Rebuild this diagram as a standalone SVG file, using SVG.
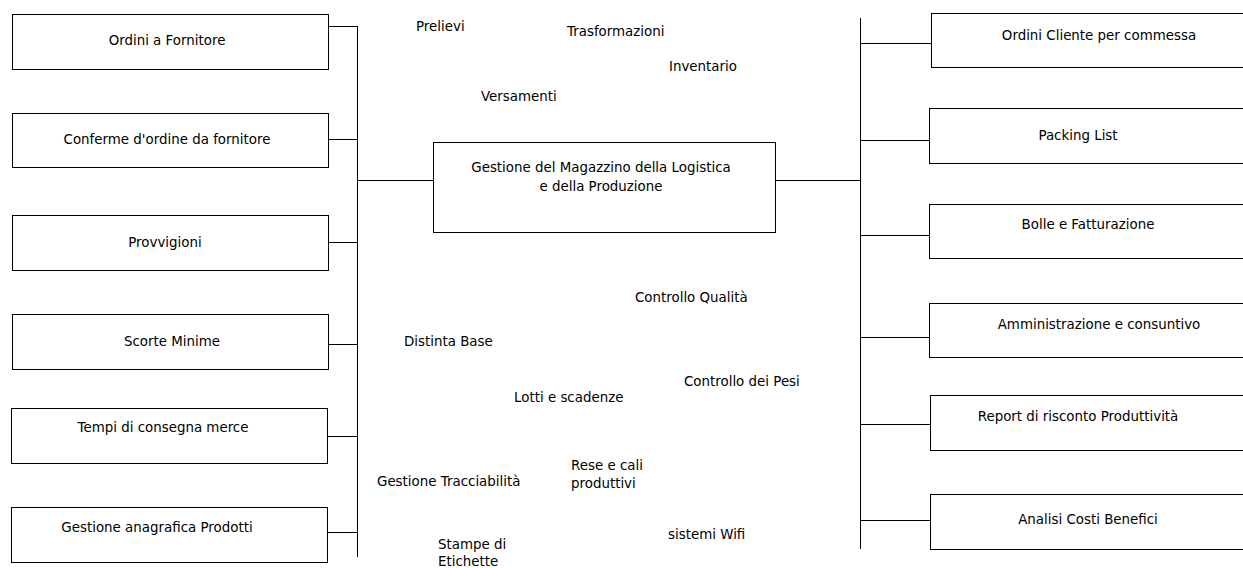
<svg xmlns="http://www.w3.org/2000/svg" width="1243" height="568" viewBox="0 0 1243 568">
<style>
.box{fill:#fff;stroke:#000;stroke-width:1}
.ln{fill:none;stroke:#000;stroke-width:1}
text{font-family:"DejaVu Sans","Liberation Sans",sans-serif;font-size:13.4px;fill:#000}
.c{text-anchor:middle}
</style>
<rect width="1243" height="568" fill="#fff"/>
<g id="connectors">
<path class="ln" d="M357.5,26 V557"/>
<path class="ln" d="M328,26.5 H357.5 M328,139.5 H357.5 M328,242.5 H357.5 M328,344.5 H357.5 M327,436.5 H357.5 M327,532.5 H357.5"/>
<path class="ln" d="M357.5,180.5 H433"/>
<path class="ln" d="M776,180.5 H860.5"/>
<path class="ln" d="M860.5,18 V549"/>
<path class="ln" d="M860.5,43.5 H931 M860.5,140.5 H929 M860.5,235.5 H929 M860.5,337.5 H929 M860.5,424.5 H930 M860.5,520.5 H930"/>
</g>
<g id="n-ordini-fornitore"><rect class="box" x="12.5" y="14.5" width="316" height="55"/><text class="c" x="167" y="45">Ordini a Fornitore</text></g>
<g id="n-conferme"><rect class="box" x="12.5" y="113.5" width="316" height="54"/><text class="c" x="167" y="144">Conferme d'ordine da fornitore</text></g>
<g id="n-provvigioni"><rect class="box" x="12.5" y="215.5" width="316" height="55"/><text class="c" x="165" y="247">Provvigioni</text></g>
<g id="n-scorte"><rect class="box" x="12.5" y="314.5" width="316" height="55"/><text class="c" x="172" y="346">Scorte Minime</text></g>
<g id="n-tempi"><rect class="box" x="11.5" y="408.5" width="316" height="55"/><text class="c" x="163" y="432">Tempi di consegna merce</text></g>
<g id="n-anagrafica"><rect class="box" x="11.5" y="507.5" width="316" height="55"/><text class="c" x="157" y="532">Gestione anagrafica Prodotti</text></g>
<g id="n-center"><rect class="box" x="433.5" y="142.5" width="342" height="90"/><text class="c" x="601" y="172">Gestione del Magazzino della Logistica</text><text class="c" x="601" y="191">e della Produzione</text></g>
<g id="n-ordini-cliente"><rect class="box" x="931.5" y="13.5" width="313" height="54"/><text class="c" x="1099" y="40">Ordini Cliente per commessa</text></g>
<g id="n-packing"><rect class="box" x="929.5" y="108.5" width="315" height="55"/><text class="c" x="1078" y="140">Packing List</text></g>
<g id="n-bolle"><rect class="box" x="929.5" y="204.5" width="315" height="54"/><text class="c" x="1088" y="229">Bolle e Fatturazione</text></g>
<g id="n-amministrazione"><rect class="box" x="929.5" y="303.5" width="315" height="54"/><text class="c" x="1099" y="329">Amministrazione e consuntivo</text></g>
<g id="n-report"><rect class="box" x="930.5" y="395.5" width="314" height="55"/><text class="c" x="1078" y="421">Report di risconto Produttività</text></g>
<g id="n-analisi"><rect class="box" x="930.5" y="494.5" width="314" height="55"/><text class="c" x="1088" y="524">Analisi Costi Benefici</text></g>
<g id="labels">
<text x="416" y="31">Prelievi</text>
<text x="567" y="36">Trasformazioni</text>
<text x="669" y="71">Inventario</text>
<text x="481" y="101">Versamenti</text>
<text x="635" y="302">Controllo Qualità</text>
<text x="404" y="346">Distinta Base</text>
<text x="684" y="386">Controllo dei Pesi</text>
<text x="514" y="402">Lotti e scadenze</text>
<text x="571" y="470">Rese e cali</text>
<text x="571" y="488">produttivi</text>
<text x="377" y="486">Gestione Tracciabilità</text>
<text x="668" y="539">sistemi Wifi</text>
<text x="438" y="549">Stampe di</text>
<text x="438" y="566">Etichette</text>
</g>
</svg>
